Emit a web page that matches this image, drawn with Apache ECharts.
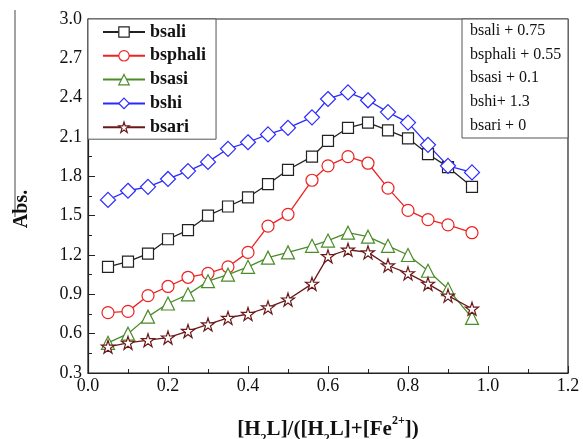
<!DOCTYPE html>
<html>
<head>
<meta charset="utf-8">
<script src="https://cdn.jsdelivr.net/npm/echarts@6/dist/echarts.min.js"></script>
<style>html,body{margin:0;padding:0;background:#fff;}#c{width:583px;height:439px;}</style>
</head>
<body>
<div id="c"></div>
<script>
const xVals = [0.05,0.1,0.15,0.2,0.25,0.3,0.35,0.4,0.45,0.5,0.56,0.6,0.65,0.7,0.75,0.8,0.85,0.9,0.96];
const bsali   = [1.11,1.15,1.21,1.32,1.39,1.50,1.57,1.64,1.74,1.85,1.95,2.07,2.17,2.21,2.15,2.09,1.97,1.87,1.72];
const bsphali = [0.76,0.77,0.89,0.96,1.03,1.06,1.11,1.22,1.42,1.51,1.77,1.88,1.95,1.90,1.71,1.54,1.47,1.43,1.37];
const bsasi   = [0.53,0.60,0.73,0.83,0.90,1.00,1.05,1.11,1.18,1.22,1.27,1.31,1.37,1.34,1.27,1.20,1.08,0.94,0.72];
const bshi    = [1.62,1.69,1.72,1.78,1.84,1.91,2.01,2.06,2.12,2.17,2.25,2.39,2.44,2.38,2.29,2.21,2.04,1.88,1.83];
const bsari   = [0.50,0.53,0.55,0.57,0.62,0.67,0.72,0.75,0.80,0.86,0.98,1.19,1.24,1.22,1.12,1.06,0.98,0.89,0.79];
const seriesNames = ['bsali','bsphali','bsasi','bshi','bsari'];
const offsetNotes = ['bsali + 0.75','bsphali + 0.55','bsasi + 0.1','bshi+ 1.3','bsari + 0'];

const STAR = 'path://M50,2 L61,36 L97,36 L68,57 L79,92 L50,71 L21,92 L32,57 L3,36 L39,36 Z';
const styles = [
  {color:'#222222', symbol:'rect', size:11},
  {color:'#ee2222', symbol:'circle', size:12},
  {color:'#4a8c28', symbol:'triangle', size:13},
  {color:'#2a2aff', symbol:'diamond', size:15},
  {color:'#6b1818', symbol:STAR, size:13}
];
const allData = [bsali,bsphali,bsasi,bshi,bsari];
const serif = '"Liberation Serif","DejaVu Serif",serif';

const chart = echarts.init(document.getElementById('c'));
const series = allData.map((arr,i)=>({
  name: seriesNames[i],
  type:'line',
  data: arr.map((v,j)=>[xVals[j], v]),
  symbol: styles[i].symbol,
  symbolSize: styles[i].size,
  showAllSymbol: true,
  lineStyle:{color:styles[i].color, width:1.3},
  itemStyle:{color:'#ffffff', borderColor:styles[i].color, borderWidth:1.2},
  emphasis:{disabled:true},
  animation:false
}));

const noteTexts = offsetNotes.map((t,i)=>({
  type:'text', x: 470, y: 23 + i*23.6, z:12,
  style:{text:t, font:'16px '+serif, fill:'#111'}
}));

chart.setOption({
  animation:false,
  grid:{left:88, right:15, top:19, bottom:66, outerBoundsMode:'none', containLabel:false,
        show:true, borderColor:'#222', borderWidth:1.2, backgroundColor:'transparent'},
  legend:{
    left:88, top:19, orient:'vertical',
    itemWidth:42, itemHeight:13, itemGap:5.8,
    padding:[4,10,3,14],
    borderColor:'#555', borderWidth:1, backgroundColor:'#fff',
    textStyle:{fontFamily:serif, fontSize:18, fontWeight:'bold', color:'#111'},
    data: seriesNames.map((n,i)=>({name:n, itemStyle:{color:'#fff', borderColor:styles[i].color, borderWidth:1.2}}))
  },
  xAxis:{
    type:'value', min:0, max:1.2, interval:0.2,
    name:'{b|[H}{s|2}{b|L]/([H}{s|2}{b|L]+[Fe}{p|2+}{b|])}',
    nameLocation:'middle', nameGap:42,
    nameTextStyle:{
      rich:{
        b:{fontFamily:serif, fontSize:21, fontWeight:'bold', color:'#111', verticalAlign:'middle', lineHeight:30},
        s:{fontFamily:serif, fontSize:12, fontWeight:'bold', color:'#111', verticalAlign:'bottom', lineHeight:14},
        p:{fontFamily:serif, fontSize:12, fontWeight:'bold', color:'#111', verticalAlign:'top', lineHeight:14}
      }
    },
    axisLine:{show:true, onZero:false, lineStyle:{color:'#222', width:1.2}},
    axisTick:{show:true, inside:true, length:7, lineStyle:{color:'#222'}},
    minorTick:{show:true, splitNumber:2, length:4, lineStyle:{color:'#222'}},
    splitLine:{show:false},
    axisLabel:{fontFamily:serif, fontSize:18, color:'#111', margin:4, formatter:v=>v.toFixed(1)}
  },
  yAxis:{
    type:'value', min:0.3, max:3.0, interval:0.3,
    axisLine:{show:true, onZero:false, lineStyle:{color:'#222', width:1.2}},
    axisTick:{show:true, inside:true, length:7, lineStyle:{color:'#222'}},
    minorTick:{show:true, splitNumber:2, length:4, lineStyle:{color:'#222'}},
    splitLine:{show:false},
    axisLabel:{fontFamily:serif, fontSize:18, color:'#111', margin:6, formatter:v=>v.toFixed(1)}
  },
  graphic:[
    {type:'rect', x:462, y:19, shape:{width:106, height:119}, style:{fill:'#fff', stroke:'#555', lineWidth:1}, z:10},
    ...noteTexts,
    {type:'text', x:22, y:209, rotation:Math.PI/2, z:5,
     style:{text:'Abs.', font:'bold 20px '+serif, fill:'#111', align:'center', verticalAlign:'middle'}},
    {type:'line', shape:{x1:15, y1:10, x2:15, y2:217}, style:{stroke:'#666', lineWidth:1.2}}
  ],
  series: series
});
</script>
</body>
</html>
